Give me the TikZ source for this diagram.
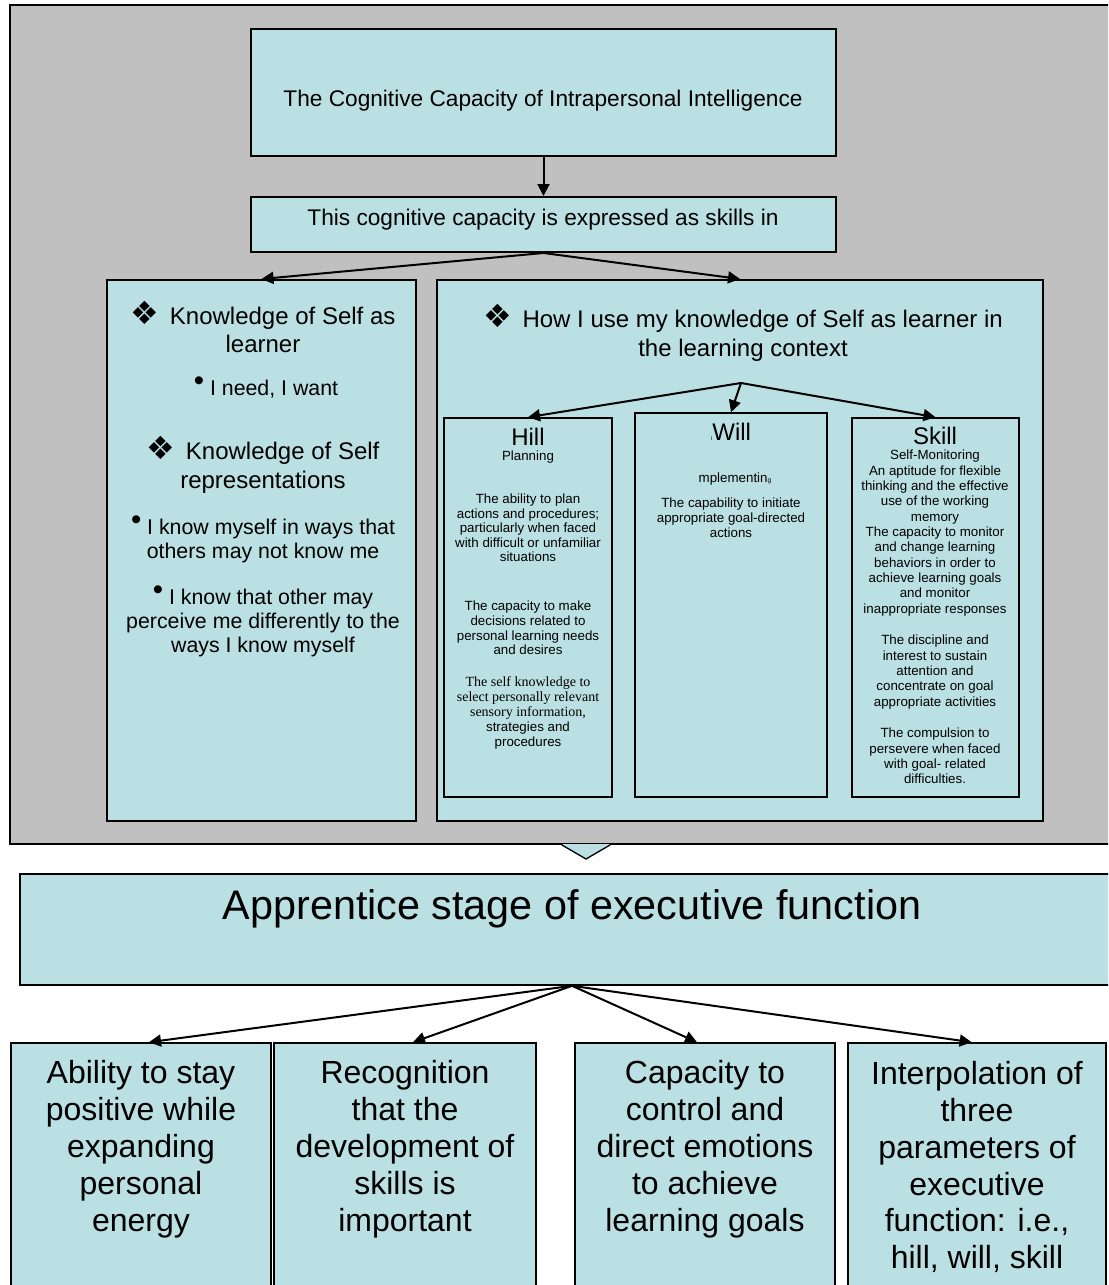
\documentclass[tikz,border=0pt]{standalone}
\usepackage{fontspec}
\setmainfont{Liberation Sans}
\newfontfamily\symfont{DejaVu Sans}
\newfontfamily\serfont{Liberation Serif}
\usetikzlibrary{arrows.meta,fit}

\definecolor{boxblue}{RGB}{187,224,227}
\definecolor{framegray}{RGB}{192,192,192}
\newcommand{\fs}[2]{\fontsize{#1}{#2}\selectfont}
\newcommand{\dia}{\smash{\symfont\fs{24}{24}❖}\hspace{8pt}}
\newcommand{\bul}{\smash{\fs{22}{22}\raisebox{3.5pt}{•}}}

\begin{document}
\begin{tikzpicture}[x=0.75pt,y=-0.75pt,
    box/.style={draw=black,line width=1.5pt,fill=boxblue,inner sep=0pt},
    txt/.style={align=center,inner sep=0pt},
    arr/.style={-{Triangle[length=9pt,width=9pt]},line width=1.5pt}]
  \useasboundingbox (0,0) rectangle (1108,1285);
  \clip (0,0) rectangle (1108,1285);
  \fill[white] (0,0) rectangle (1108,1285);

  % grey frame round the upper part
  \draw[line width=1.8pt,fill=framegray] (10,5) rectangle (1130,844);
  \fill[boxblue] (562,844) -- (586,859) -- (610,844) -- cycle;
  \draw[line width=1pt] (562,845) -- (586,859) -- (610,845);

  \node[box,fit={(251,29) (836,156)}] (cap) {};
  \node[txt,font=\fs{17}{20}] (captxt) at (543,101) {The Cognitive Capacity of Intrapersonal Intelligence};
  \node[box,fit={(251,197) (836,252)}] (expr) {};
  \node[txt,font=\fs{17}{20}] (exprtxt) at (543,220) {This cognitive capacity is expressed as skills in};

  \node[box,fit={(107,280) (416,821)}] (self) {};
  \node[box,fit={(437,280) (1043,821)}] (use) {};

  \draw[arr] (cap.south) -- (expr.north);
  \draw[arr] (expr.south) -- (self.north);
  \draw[arr] (expr.south) -- (use.north);

  % left box
  \node[txt,font=\fs{18}{21.5}] (k1) at (263,330) {\dia Knowledge of Self as\\learner};
  \node[txt,font=\fs{16}{18}] (b1) at (266,389) {\bul\ I need, I want};
  \node[txt,font=\fs{18}{21.5}] (k2) at (263,468) {\dia Knowledge of Self\\representations};
  \node[txt,font=\fs{16}{18}] (b2) at (263,541) {\bul\ I know myself in ways that\\others may not know me};
  \node[txt,font=\fs{16}{18}] (b3) at (263,623) {\bul\ I know that other may\\perceive me differently to the\\ways I know myself};

  % right box
  \node[txt,font=\fs{18}{21.5}] (usetxt) at (743,336) {\dia How I use my knowledge of Self as learner in\\the learning context};
  \coordinate (fork) at (741,383);
  \node[box,line width=1.2pt,fit={(444,418) (612,797)}] (hill) {};
  \node[box,line width=1.2pt,fit={(635,413) (827,797)}] (will) {};
  \node[box,line width=1.2pt,fit={(852,418) (1019,797)}] (skill) {};
  \draw[arr] (fork) -- (hill.north);
  \draw[arr] (fork) -- (will.north);
  \draw[arr] (fork) -- (skill.north);

  % hill
  \node[txt,font=\fs{18}{20}] (h0) at (528,437) {Hill};
  \node[txt,font=\fs{10}{11}] (h1) at (528,457) {Planning};
  \node[txt,font=\fs{10}{10.9}] (h2) at (528,528) {The ability to plan\\actions and procedures;\\particularly when faced\\with difficult or unfamiliar\\situations};
  \node[txt,font=\fs{10}{10.9}] (h3) at (528,628) {The capacity to make\\decisions related to\\personal learning needs\\and desires};
  \node[txt,font=\fs{10}{11.2}] (h4) at (528,713) {{\serfont\fs{10.5}{11.2}The self knowledge to}\\{\serfont\fs{10.5}{11.2}select personally relevant}\\{\serfont\fs{10.5}{11.2}sensory information,}\\strategies and\\procedures};

  % will
  \node[txt,font=\fs{18}{20}] (w0) at (731,432) {{\fs{4}{4}I}Will};
  \node[txt,font=\fs{10}{11}] (w1) at (735,479) {mplementin{\fs{5}{5}g}};
  \node[txt,font=\fs{10}{11.4}] (w2) at (731,518) {The capability to initiate\\appropriate goal-directed\\actions};

  % skill
  \node[txt,font=\fs{18}{20}] (s0) at (935,436) {Skill};
  \node[txt,font=\fs{10}{11.5}] (s1) at (935,533) {Self-Monitoring\\An aptitude for flexible\\thinking and the effective\\use of the working\\memory\\The capacity to monitor\\and change learning\\behaviors in order to\\achieve learning goals\\and monitor\\inappropriate responses};
  \node[txt,font=\fs{10}{11.5}] (s2) at (935,672) {The discipline and\\interest to sustain\\attention and\\concentrate on goal\\appropriate activities};
  \node[txt,font=\fs{10}{11.5}] (s3) at (935,756) {The compulsion to\\persevere when faced\\with goal- related\\difficulties.};

  % lower part
  \node[box,line width=1.2pt,fit={(20,874) (1124,985)}] (appr) {};
  \node[txt,font=\fs{31}{36}] (apprtxt) at (572,909) {Apprentice stage of executive function};

  \node[box,line width=1.2pt,fit={(11,1043) (271,1300)}] (posit) {};
  \node[box,line width=1.2pt,fit={(274,1043) (536,1300)}] (recog) {};
  \node[box,line width=1.2pt,fit={(575,1043) (835,1300)}] (emot) {};
  \node[box,line width=1.2pt,fit={(848,1043) (1106,1300)}] (inter) {};
  \draw[arr] (appr.south) -- ([xshift=6pt]posit.north);
  \draw[arr] (appr.south) -- ([xshift=6pt]recog.north);
  \draw[arr] (appr.south) -- ([xshift=-6pt]emot.north);
  \draw[arr] (appr.south) -- ([xshift=-4pt]inter.north);

  \node[txt,font=\fs{24}{27.7}] (posittxt) at (141,1149) {Ability to stay\\positive while\\expanding\\personal\\energy};
  \node[txt,font=\fs{24}{27.7}] (recogtxt) at (405,1149) {Recognition\\that the\\development of\\skills is\\important};
  \node[txt,font=\fs{24}{27.7}] (emottxt) at (705,1149) {Capacity to\\control and\\direct emotions\\to achieve\\learning goals};
  \node[txt,font=\fs{24}{27.7}] (intertxt) at (977,1167) {Interpolation of\\three\\parameters of\\executive\\function: i.e.,\\hill, will, skill};
\end{tikzpicture}
\end{document}
